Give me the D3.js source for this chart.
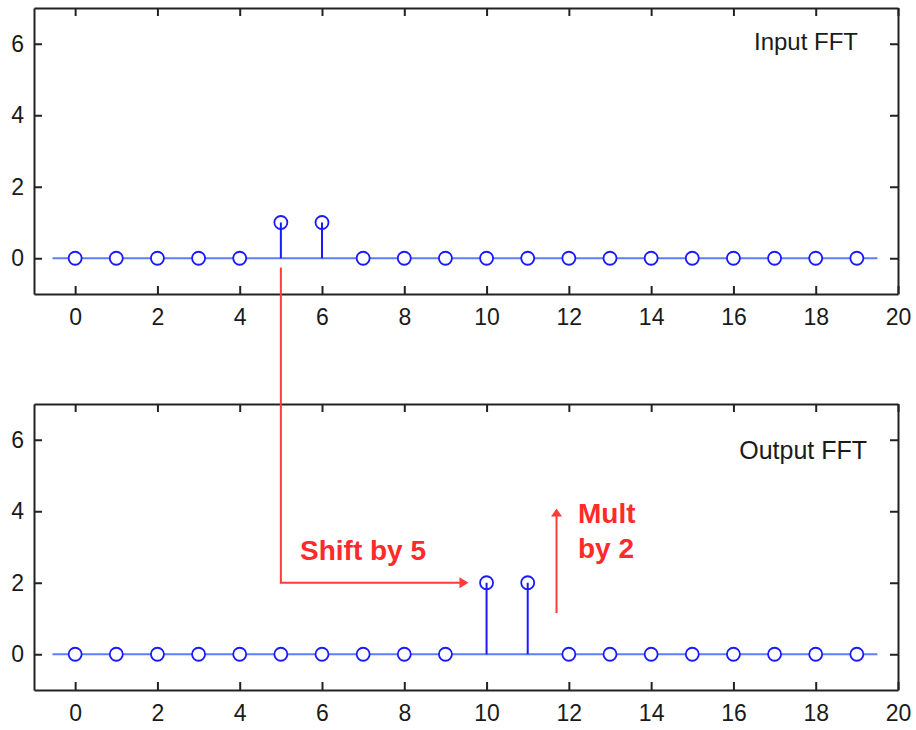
<!DOCTYPE html>
<meta charset="utf-8">
<style>
body {
  margin: 0;
  background: #fff;
}
svg {
  display: block;
  font-family: "Liberation Sans", Arial, sans-serif;
}
.axis path, .axis line {
  stroke: #222;
}
.axis text {
  fill: #1a1a1a;
  font-size: 23px;
}
.label {
  fill: #1a1a1a;
  font-size: 24px;
}
.note {
  fill: #ff2a2a;
  font-size: 28px;
  font-weight: bold;
}
</style>
<body>
<svg width="916" height="730"></svg>
<script src="https://d3js.org/d3.v7.min.js"></script>
<script>
// sample index 0..19
var bins = d3.range(0, 20);
var inputFFT  = [0, 0, 0, 0, 0, 1, 1, 0, 0, 0, 0, 0, 0, 0, 0, 0, 0, 0, 0, 0];
var outputFFT = [0, 0, 0, 0, 0, 0, 0, 0, 0, 0, 2, 2, 0, 0, 0, 0, 0, 0, 0, 0];
var xTicks = [0, 2, 4, 6, 8, 10, 12, 14, 16, 18, 20];
var yTicks = [0, 2, 4, 6];
var xDomain = [-1, 20];
var yDomain = [-1, 7];
var baseSpan = [-0.55, 19.5];

var svg = d3.select("svg");
var left = 34, right = 898;

var x = d3.scaleLinear().domain(xDomain).range([left, right]);

var panels = [
  {values: inputFFT,  top: 8,   bottom: 294, label: "Input FFT",  lx: 858, ly: 50, fs: 24},
  {values: outputFFT, top: 404, bottom: 690, label: "Output FFT", lx: 867, ly: 459, fs: 25}
];

panels.forEach(function(p) {
  p.y = d3.scaleLinear().domain(yDomain).range([p.bottom, p.top]);
  var g = svg.append("g");

  // axes, ticks pointing inside like matlab
  g.append("g").attr("class", "axis")
      .attr("transform", "translate(0," + p.bottom + ")")
      .call(d3.axisBottom(x).tickValues(xTicks).tickSizeInner(-8).tickSizeOuter(0).tickPadding(15));
  g.append("g").attr("class", "axis")
      .attr("transform", "translate(0," + p.top + ")")
      .call(d3.axisTop(x).tickValues(xTicks).tickSizeInner(-8).tickSizeOuter(0).tickFormat(""));
  g.append("g").attr("class", "axis")
      .attr("transform", "translate(" + left + ",0)")
      .call(d3.axisLeft(p.y).tickValues(yTicks).tickSizeInner(-8).tickSizeOuter(0).tickPadding(10));
  g.append("g").attr("class", "axis")
      .attr("transform", "translate(" + right + ",0)")
      .call(d3.axisRight(p.y).tickValues(yTicks).tickSizeInner(-8).tickSizeOuter(0).tickFormat(""));
  g.selectAll(".axis path").attr("stroke-width", 2);
  g.selectAll(".axis line").attr("stroke-width", 2);

  // baseline
  g.append("line")
      .attr("x1", x(baseSpan[0])).attr("x2", x(baseSpan[1]))
      .attr("y1", p.y(0)).attr("y2", p.y(0))
      .attr("stroke", "#5f7dff").attr("stroke-width", 2);

  g.selectAll(".mark")
    .data(p.values)
    .enter().append("circle")
      .attr("cx", function(d, i) { return x(bins[i]); })
      .attr("cy", function(d) { return p.y(d); })
      .attr("r", 6.5)
      .attr("fill", "#fff")
      .attr("stroke", "#1a1aff")
      .attr("stroke-width", 1.8);

  g.selectAll(".stem")
    .data(p.values.map(function(d, i) { return {i: i, v: d}; }).filter(function(d) { return d.v !== 0; }))
    .enter().append("line")
      .attr("x1", function(d) { return x(bins[d.i]); })
      .attr("x2", function(d) { return x(bins[d.i]); })
      .attr("y1", p.y(0))
      .attr("y2", function(d) { return p.y(d.v); })
      .attr("stroke", "#1a1aff").attr("stroke-width", 2);

  g.append("text").attr("class", "label")
      .attr("x", p.lx).attr("y", p.ly)
      .attr("text-anchor", "end")
      .style("font-size", p.fs + "px")
      .text(p.label);
});

// red annotations
var red = "#ff3b3b";
var yTop = panels[0].y, yBot = panels[1].y;
var ax = x(5), ay = yBot(2), tipX = x(9.56);

svg.append("path")
    .attr("d", "M" + ax + "," + yTop(-0.26) + "V" + ay + "H" + (tipX - 8))
    .attr("fill", "none").attr("stroke", red).attr("stroke-width", 2);
svg.append("path")
    .attr("d", "M" + tipX + "," + ay + "l-9,-5.5v11z")
    .attr("fill", red);

var mx = x(11.7), my0 = yBot(1.15), my1 = yBot(4.08);
svg.append("line")
    .attr("x1", mx).attr("x2", mx).attr("y1", my0).attr("y2", my1 + 7)
    .attr("stroke", red).attr("stroke-width", 2);
svg.append("path")
    .attr("d", "M" + mx + "," + my1 + "l-5.5,8h11z")
    .attr("fill", red);

svg.append("text").attr("class", "note").attr("x", 300).attr("y", 560).text("Shift by 5");
svg.append("text").attr("class", "note").attr("x", 578).attr("y", 523).text("Mult");
svg.append("text").attr("class", "note").attr("x", 578).attr("y", 558).text("by 2");
</script>
</body>
